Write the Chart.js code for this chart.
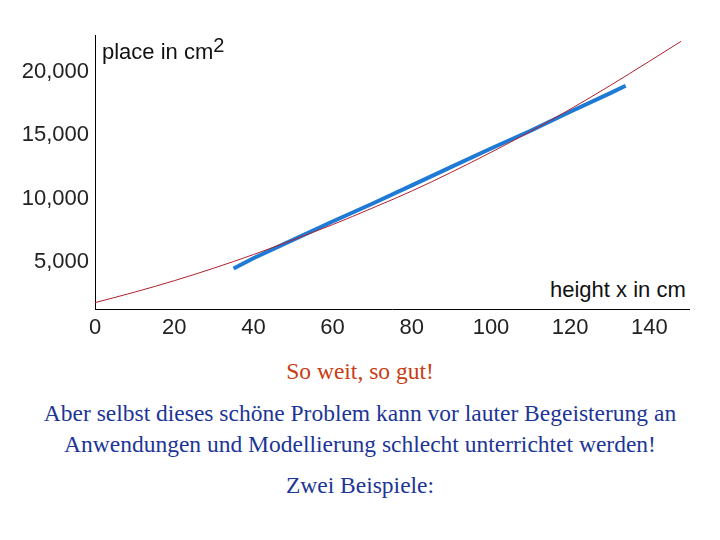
<!DOCTYPE html>
<html><head><meta charset="utf-8">
<script src="https://cdn.jsdelivr.net/npm/chart.js@4/dist/chart.umd.min.js"></script>
<style>
body{margin:0;background:#fff;width:720px;height:540px;position:relative;overflow:hidden}
#wrap{position:absolute;left:0;top:0;width:720px;height:345px}
.t{position:absolute;font-family:"Liberation Serif",serif;font-size:23.5px;text-align:center;width:720px;left:0}
.ax{position:absolute;font-family:"Liberation Sans",Arial,sans-serif;font-size:22px;color:#111;background:#fff}
</style></head><body>
<div id="wrap"><canvas id="c" width="720" height="345"></canvas></div>
<div class="ax" style="left:102px;top:34px">place in cm<sup style="font-size:20px;vertical-align:7px">2</sup></div>
<div class="ax" style="left:550px;top:277px">height x in cm</div>
<div class="t" style="top:358px;color:#c83c14">So weit, so gut!</div>
<div class="t" style="top:398px;color:#1c3596;line-height:31px">Aber selbst dieses schöne Problem kann vor lauter Begeisterung an<br>Anwendungen und Modellierung schlecht unterrichtet werden!</div>
<div class="t" style="top:472px;color:#1c3596">Zwei Beispiele:</div>
<script>
const modelX = [0,10,20,30,40,50,60,70,80,90,100,110,120,130,140,148];
const modelY = [1800,2630,3530,4520,5590,6750,7950,9250,10600,12080,13650,15300,17050,18900,20830,22400];
const dataX = [35,40,50,60,70,80,90,100,110,120,130,134];
const dataY = [4500,5300,6750,8200,9600,11050,12500,13950,15350,16850,18300,18900];
const xTicks = [0,20,40,60,80,100,120,140];
const yTicks = [5000,10000,15000,20000];
const pts = (xs, ys) => xs.map((x,i)=>({x, y: ys[i]}));
const font = {family:'"Liberation Sans", Arial, sans-serif', size:22};
new Chart(document.getElementById('c'), {
  type:'line',
  data:{datasets:[
    {data:pts(modelX,modelY), borderColor:'#b0202a', borderWidth:1, pointRadius:0, cubicInterpolationMode:'monotone'},
    {data:pts(dataX,dataY), borderColor:'#1f7ad6', borderWidth:4, pointRadius:0, tension:0}
  ]},
  options:{
    responsive:false, animation:false, events:[],
    layout:{padding:{left:0,right:31,top:35,bottom:0}},
    plugins:{legend:{display:false},tooltip:{enabled:false}},
    scales:{
      x:{type:'linear',min:0,max:150,
        afterBuildTicks:s=>{s.ticks=xTicks.map(v=>({value:v}));},
        afterFit:s=>{s.height=36;},
        grid:{display:false,drawTicks:true,tickLength:4},
        border:{color:'#000',width:1},
        ticks:{font,color:'#222',padding:2,maxRotation:0}},
      y:{type:'linear',min:1300,max:22900,
        afterBuildTicks:s=>{s.ticks=yTicks.map(v=>({value:v}));},
        afterFit:s=>{s.width=95;},
        grid:{display:false,tickLength:4},
        border:{color:'#000',width:1},
        ticks:{font,color:'#222',padding:2,callback:v=>v.toLocaleString('en-US')}}
    }
  }
});
</script></body></html>
